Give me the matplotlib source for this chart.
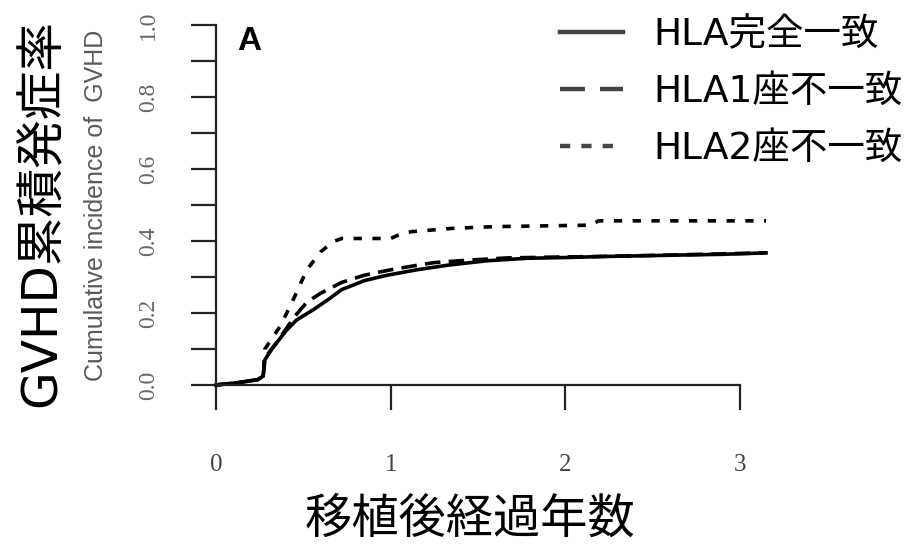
import matplotlib
matplotlib.use("Agg")
import matplotlib.pyplot as plt

# Cumulative incidence of GVHD by HLA match
years_match = [0, 0.12, 0.24, 0.27, 0.28, 0.32, 0.40, 0.46, 0.56, 0.65, 0.72, 0.85, 0.98,
               1.15, 1.33, 1.55, 1.78, 2.0, 2.22, 2.45, 2.66, 2.9, 3.15]
inc_match = [0, 0.006, 0.015, 0.025, 0.07, 0.10, 0.15, 0.18, 0.21, 0.24, 0.265, 0.29, 0.305,
             0.32, 0.333, 0.345, 0.352, 0.354, 0.357, 0.359, 0.361, 0.363, 0.367]

years_mm1 = [0, 0.12, 0.24, 0.27, 0.28, 0.35, 0.45, 0.52, 0.6, 0.72, 0.85, 1.0, 1.12,
             1.25, 1.45, 1.67, 1.9, 2.2, 2.6, 3.15]
inc_mm1 = [0, 0.006, 0.015, 0.025, 0.075, 0.12, 0.19, 0.23, 0.255, 0.285, 0.305, 0.32, 0.33,
           0.34, 0.347, 0.353, 0.355, 0.357, 0.361, 0.367]

years_mm2 = [0, 0.12, 0.24, 0.27, 0.28, 0.37, 0.45, 0.52, 0.6, 0.67, 0.72, 1.0, 1.06,
             1.12, 1.35, 1.6, 2.15, 2.19, 3.15]
inc_mm2 = [0, 0.006, 0.015, 0.025, 0.10, 0.165, 0.245, 0.32, 0.37, 0.398, 0.407, 0.407, 0.42,
           0.426, 0.435, 0.44, 0.444, 0.456, 0.456]

labels = ['HLA完全一致', 'HLA1座不一致', 'HLA2座不一致']
xticks = [0, 1, 2, 3]
yticks = [0.0, 0.2, 0.4, 0.6, 0.8, 1.0]
yminor = [0.1, 0.3, 0.5, 0.7, 0.9]

fonts = ['DejaVu Sans', 'Noto Sans CJK JP']

fig = plt.figure(figsize=(9.05, 5.46), dpi=100)
ax = fig.add_axes([216 / 905, 161 / 546, 564 / 905, 360 / 546])

ax.plot(years_match, inc_match, color='black', lw=2.6, ls='-', label=labels[0], clip_on=False)
ax.plot(years_mm1, inc_mm1, color='black', lw=2.6, ls=(0, (4.3, 2.3)), label=labels[1], clip_on=False)
ax.plot(years_mm2, inc_mm2, color='black', lw=2.6, ls=(0, (2.3, 2.9)), label=labels[2], clip_on=False)

ax.set_xlim(0, 3.23)
ax.set_ylim(0, 1)
for s in ['top', 'right']:
    ax.spines[s].set_visible(False)
ax.spines['bottom'].set_bounds(0, 3)
ax.spines['left'].set_bounds(0, 1)
for s in ['bottom', 'left']:
    ax.spines[s].set_linewidth(1.6)
    ax.spines[s].set_color('#222222')

ax.set_xticks(xticks)
ax.set_xticklabels([str(t) for t in xticks], family='Liberation Serif', fontsize=18, color='#444444')
ax.set_yticks(yticks)
ax.set_yticks(yminor, minor=True)
ax.set_yticklabels([f'{t:.1f}' for t in yticks], family='Liberation Serif', fontsize=17,
                   color='#666666', rotation=90, va='center')
ax.tick_params(axis='both', which='both', direction='out', length=18, width=1.6, color='#222222')
ax.tick_params(axis='x', pad=32)
ax.tick_params(axis='y', pad=23)

# small English axis label next to the ticks
fig.text(96 / 905, 1 - 205 / 546, 'Cumulative incidence of  GVHD', rotation=90, ha='center', va='center',
         family='Liberation Sans', fontsize=18, color='#5a5a5a')
# large Japanese labels
fig.text(42 / 905, 1 - 213 / 546, 'GVHD累積発症率', rotation=90, ha='center', va='center',
         family=fonts, fontsize=35, color='black')
fig.text(470 / 905, 1 - 520 / 546, '移植後経過年数', ha='center', va='center',
         family=fonts, fontsize=34, color='black')

ax.text(0.12, 0.955, 'A', transform=ax.transData, family='Liberation Sans', fontweight='bold',
        fontsize=24, ha='left', va='center')

leg = ax.legend(loc='upper left', bbox_to_anchor=(560 / 905, 1 - 17 / 546), bbox_transform=fig.transFigure,
                frameon=False, prop={'family': fonts, 'size': 27}, handlelength=1.68,
                handletextpad=0.8, labelspacing=0.56, borderaxespad=0, borderpad=0)
handle_styles = ['-', (0, (5.6, 3.4)), (0, (2.3, 2.5))]
for h, st in zip(leg.get_lines(), handle_styles):
    h.set_color('#444444')
    h.set_linewidth(3.2)
    h.set_linestyle(st)

fig.savefig('out.png', dpi=100)
